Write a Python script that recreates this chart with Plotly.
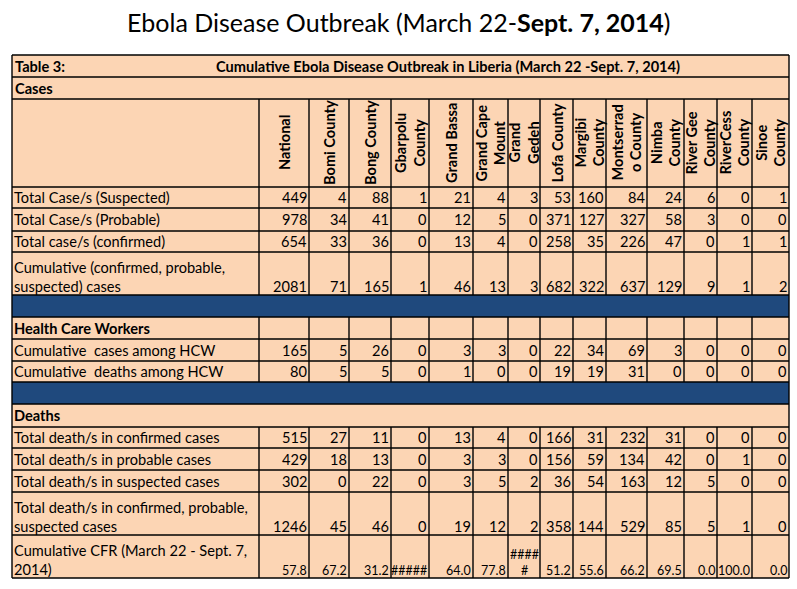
import plotly.graph_objects as go

# ---------------- data ----------------
title_text = "Ebola Disease Outbreak (March 22-<b>Sept. 7, 2014</b>)"
table_label = "Table 3:"
table_title = "Cumulative Ebola Disease Outbreak in Liberia (March 22 -Sept. 7, 2014)"

columns = ["National", "Bomi County", "Bong County", "Gbarpolu<br>County", "Grand Bassa",
           "Grand Cape<br>Mount", "Grand<br>Gedeh", "Lofa County", "Margibi<br>County",
           "Montserrad<br>o County", "Nimba<br>County", "River Gee<br>County",
           "RiverCess<br>County", "Sinoe<br>County"]

section_cases = "Cases"
section_hcw = "Health Care Workers"
section_deaths = "Deaths"

case_labels = ["Total Case/s (Suspected)", "Total Case/s (Probable)",
               "Total case/s (confirmed)", "Cumulative (confirmed, probable,<br>suspected) cases"]
cases_suspected = [449, 4, 88, 1, 21, 4, 3, 53, 160, 84, 24, 6, 0, 1]
cases_probable = [978, 34, 41, 0, 12, 5, 0, 371, 127, 327, 58, 3, 0, 0]
cases_confirmed = [654, 33, 36, 0, 13, 4, 0, 258, 35, 226, 47, 0, 1, 1]
cases_cumulative = [2081, 71, 165, 1, 46, 13, 3, 682, 322, 637, 129, 9, 1, 2]

hcw_labels = ["Cumulative  cases among HCW", "Cumulative  deaths among HCW"]
hcw_cases = [165, 5, 26, 0, 3, 3, 0, 22, 34, 69, 3, 0, 0, 0]
hcw_deaths = [80, 5, 5, 0, 1, 0, 0, 19, 19, 31, 0, 0, 0, 0]

death_labels = ["Total death/s in confirmed cases", "Total death/s in probable cases",
                "Total death/s in suspected cases",
                "Total death/s in confirmed, probable,<br>suspected cases",
                "Cumulative CFR (March 22 - Sept. 7,<br>2014)"]
deaths_confirmed = [515, 27, 11, 0, 13, 4, 0, 166, 31, 232, 31, 0, 0, 0]
deaths_probable = [429, 18, 13, 0, 3, 3, 0, 156, 59, 134, 42, 0, 1, 0]
deaths_suspected = [302, 0, 22, 0, 3, 5, 2, 36, 54, 163, 12, 5, 0, 0]
deaths_total = [1246, 45, 46, 0, 19, 12, 2, 358, 144, 529, 85, 5, 1, 0]
cfr_display = ["57.8", "67.2", "31.2", "#####", "64.0", "77.8", "####<br>#", "51.2",
               "55.6", "66.2", "69.5", "0.0", "100.0", "0.0"]

# ---------------- layout constants ----------------
W, H = 797, 589
FONT = "Lato"
PEACH = "#FCD5B4"
BLUE = "#1F497D"
LINE = "#000000"
FS = 14.6

col_edges = [12, 259, 309, 349, 391, 429, 473, 508, 540, 573, 606, 647, 684, 717, 752, 789]
LEFT, RIGHT = col_edges[0], col_edges[-1]

# row boundaries (top, bottom)
r_table = (55, 77)
r_cases = (77, 99)
r_head = (99, 187)
r_case_rows = [(187, 208), (208, 231), (231, 252), (252, 295)]
r_blue1 = (295, 317)
r_hcw_head = (317, 339)
r_hcw_rows = [(339, 361), (361, 382)]
r_blue2 = (382, 404)
r_deaths = (404, 427)
r_death_rows = [(427, 448), (448, 470), (470, 492), (492, 535), (535, 578)]

shapes = []
annotations = []


def rect(x0, x1, y0, y1, fill):
    shapes.append(dict(type="rect", xref="x", yref="y", x0=x0, x1=x1, y0=y0, y1=y1,
                       fillcolor=fill, line=dict(width=0), layer="below"))


def hline(y, x0=LEFT, x1=RIGHT, w=1.4):
    shapes.append(dict(type="line", xref="x", yref="y", x0=x0, x1=x1, y0=y, y1=y,
                       line=dict(color=LINE, width=w)))


def vline(x, y0, y1, w=1.4):
    shapes.append(dict(type="line", xref="x", yref="y", x0=x, x1=x, y0=y0, y1=y1,
                       line=dict(color=LINE, width=w)))


def text(x, y, s, xanchor="left", yanchor="middle", size=FS, bold=False, angle=0, align="left"):
    annotations.append(dict(x=x, y=y, xref="x", yref="y", text=("<b>%s</b>" % s) if bold else s,
                            showarrow=False, xanchor=xanchor, yanchor=yanchor, align=align,
                            textangle=angle, borderpad=0,
                            font=dict(family=FONT, size=size, color="black")))


# backgrounds
rect(LEFT, RIGHT, r_table[0], r_death_rows[-1][1], PEACH)
rect(LEFT, RIGHT, r_blue1[0], r_blue1[1], BLUE)
rect(LEFT, RIGHT, r_blue2[0], r_blue2[1], BLUE)

# horizontal lines
for y in [r_table[0], r_table[1], r_cases[1], r_head[1]] + [b for _, b in r_case_rows] + \
         [r_blue1[1], r_hcw_head[1]] + [b for _, b in r_hcw_rows] + [r_blue2[1], r_deaths[1]] + \
         [b for _, b in r_death_rows]:
    hline(y)

# outer verticals
vline(LEFT, r_table[0], r_death_rows[-1][1])
vline(RIGHT, r_table[0], r_death_rows[-1][1])
# inner verticals (segments)
for x in col_edges[1:-1]:
    vline(x, r_head[0], r_blue1[0])
    vline(x, r_hcw_head[0], r_blue2[0])
    vline(x, r_deaths[1], r_death_rows[-1][1])

# title
annotations.append(dict(x=W / 2, y=22, xref="x", yref="y", text=title_text, showarrow=False,
                        xanchor="center", yanchor="middle",
                        font=dict(family=FONT, size=25, color="black")))

# table header rows
text(LEFT + 2, sum(r_table) / 2, table_label, bold=True)
text(448, sum(r_table) / 2, table_title, xanchor="center", bold=True, size=FS)
text(LEFT + 2, sum(r_cases) / 2, section_cases, bold=True)

# column headers (rotated)
for i, c in enumerate(columns):
    cx = (col_edges[i + 1] + col_edges[i + 2]) / 2
    text(cx, 143, c, xanchor="center", yanchor="middle", bold=True, angle=-90, align="center",
         size=FS)


def data_rows(labels, rows, bounds, numsize=FS):
    for lab, vals, (y0, y1) in zip(labels, rows, bounds):
        tall = (y1 - y0) > 30
        ly = y1 + 0.5 if tall else (y0 + y1) / 2
        ya = "bottom" if tall else "middle"
        text(LEFT + 1, ly, lab, yanchor=ya)
        for j, v in enumerate(vals):
            s = str(v)
            sz = numsize
            if isinstance(v, str):
                sz = 12.5
            xa = "right"
            xx = col_edges[j + 2] - 1.5
            al = "right"
            if "<br>" in s:
                xa = "center"
                xx = (col_edges[j + 1] + col_edges[j + 2]) / 2
                al = "center"
            text(xx, ly, s, xanchor=xa, yanchor=ya, size=sz, align=al)


data_rows(case_labels, [cases_suspected, cases_probable, cases_confirmed, cases_cumulative],
          r_case_rows)
text(LEFT + 1, sum(r_hcw_head) / 2, section_hcw, bold=True)
data_rows(hcw_labels, [hcw_cases, hcw_deaths], r_hcw_rows)
text(LEFT + 1, sum(r_deaths) / 2, section_deaths, bold=True)
data_rows(death_labels, [deaths_confirmed, deaths_probable, deaths_suspected, deaths_total,
                         cfr_display], r_death_rows)

fig = go.Figure()
fig.add_trace(go.Scatter(x=[0, W], y=[0, H], mode="markers", marker=dict(opacity=0),
                         hoverinfo="skip", showlegend=False))
fig.update_layout(
    width=W, height=H, margin=dict(l=0, r=0, t=0, b=0),
    paper_bgcolor="white", plot_bgcolor="white",
    xaxis=dict(range=[0, W], visible=False, fixedrange=True),
    yaxis=dict(range=[H, 0], visible=False, fixedrange=True),
    shapes=shapes, annotations=annotations, showlegend=False,
)
fig.write_html("out.html", config={"displayModeBar": False},
               post_script="document.body.style.margin='0px';document.body.style.overflow='hidden';")
